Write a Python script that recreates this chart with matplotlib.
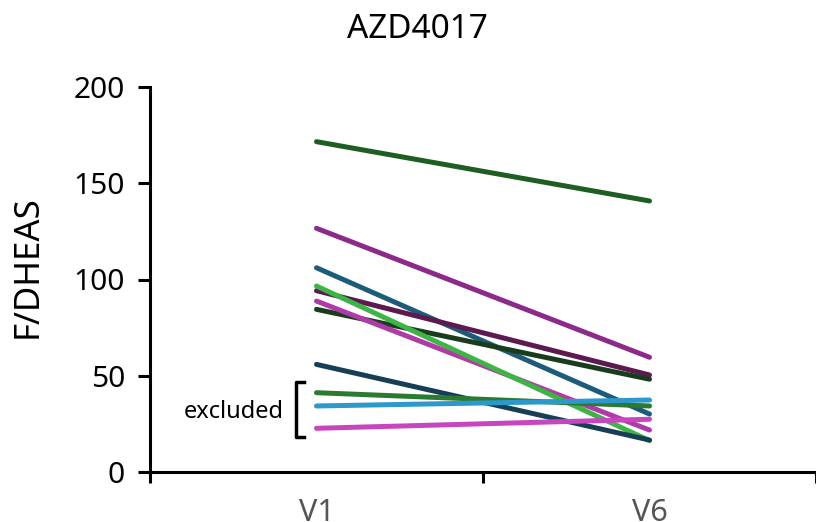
import matplotlib.pyplot as plt

plt.rcParams['font.family'] = ['Noto Sans', 'DejaVu Sans']

visits = ["V1", "V6"]
v1 = [171.6, 126.6, 106.1, 94.2, 84.5, 88.8, 96.6, 55.9, 41.2, 34.3, 22.7]
v6 = [140.8, 59.6, 30.1, 50.4, 48.2, 21.8, 16.3, 16.6, 34.3, 37.4, 27.4]
colors = ["#1E5E22", "#8C2A8A", "#1D5B7A", "#5C1A50", "#193D1C", "#B03AA8",
          "#3DB445", "#163F55", "#2A7A30", "#2D98CC", "#C845C0"]
yticks = [0, 50, 100, 150, 200]

fig = plt.figure(figsize=(8.16, 5.22), dpi=100)
ax = fig.add_axes([150 / 816, 50 / 522, 666 / 816, 385 / 522])

x = list(range(len(visits)))
for a, b, c in zip(v1, v6, colors):
    ax.plot(x, [a, b], color=c, lw=3.6, solid_capstyle="round")

ax.set_xlim(-0.5, 1.482)
ax.set_ylim(0, 200)
ax.set_yticks(yticks)
ax.set_xticks([-0.5, 0.5, 1.5])
ax.set_xticklabels([])
ax.set_xticks(x, minor=True)
ax.set_xticklabels(visits, minor=True, fontsize=22, color="#555555")
ax.tick_params(axis="x", which="minor", length=0, pad=19)
ax.tick_params(axis="x", which="major", length=8, width=2.2, direction="out")
ax.tick_params(axis="y", length=9, width=2.2, labelsize=21.5, pad=9)

for s in ["top", "right"]:
    ax.spines[s].set_visible(False)
for s in ["left", "bottom"]:
    ax.spines[s].set_linewidth(2.2)

# bracket marking excluded samples
bx, by0, by1 = -0.0625, 18.2, 46.8
ax.plot([bx + 0.024, bx, bx, bx + 0.024], [by0, by0, by1, by1],
        color="black", lw=2.5, clip_on=False)
ax.text(bx - 0.035, 31, "excluded", ha="right", va="center", fontsize=17)

fig.text(417 / 816, 1 - 30 / 522, "AZD4017", ha="center", va="center", fontsize=24)
fig.text(28 / 816, 1 - 267 / 522, "F/DHEAS", ha="center", va="center",
         rotation=90, fontsize=25)

fig.savefig("out.png", dpi=100)
